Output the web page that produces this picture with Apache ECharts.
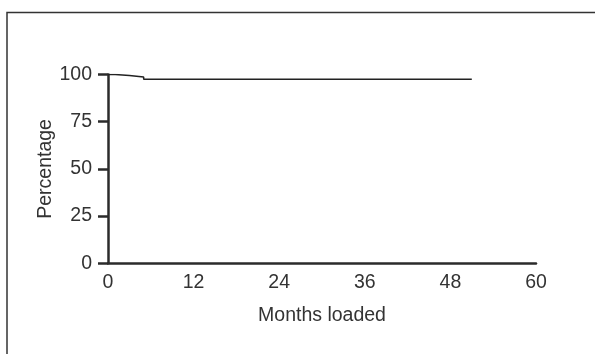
<!DOCTYPE html>
<html>
<head>
<meta charset="utf-8">
<script src="https://cdn.jsdelivr.net/npm/echarts@6/dist/echarts.min.js"></script>
<style>
html,body{margin:0;padding:0;background:#fff;}
#c{width:595px;height:354px;}
</style>
</head>
<body>
<div id="c"></div>
<script>
const months = [0, 1, 3, 5, 51];
const percentage = [100, 99.5, 98.7, 97.5, 97.5];
const xTicks = [0, 12, 24, 36, 48, 60];
const yTicks = [0, 25, 50, 75, 100];

const chart = echarts.init(document.getElementById('c'), null, {renderer: 'canvas'});
const axisColor = '#2b2b2b';
const textColor = '#333333';
const font = 'Liberation Sans, Arial, sans-serif';
const fs = 19.5;
chart.setOption({
  animation: false,
  backgroundColor: '#ffffff',
  graphic: [{
    type: 'rect',
    shape: {x: 7, y: 12.5, width: 620, height: 400},
    style: {fill: 'none', stroke: '#333', lineWidth: 1.5},
    silent: true
  }],
  grid: {left: 108, right: 59, top: 74.5, bottom: 90.7, containLabel: false},
  xAxis: {
    type: 'value',
    min: xTicks[0], max: xTicks[xTicks.length - 1], interval: 12,
    name: 'Months loaded',
    nameLocation: 'middle',
    nameGap: 42,
    nameMoveOverlap: false,
    nameTextStyle: {fontFamily: font, fontSize: fs, color: textColor},
    axisLine: {show: true, onZero: false, lineStyle: {color: axisColor, width: 2.5}},
    axisTick: {show: false},
    splitLine: {show: false},
    axisLabel: {margin: 9, fontFamily: font, fontSize: fs, color: textColor}
  },
  yAxis: {
    type: 'value',
    min: yTicks[0], max: yTicks[yTicks.length - 1], interval: 25,
    name: 'Percentage',
    nameLocation: 'middle',
    nameGap: 52,
    nameMoveOverlap: false,
    nameTextStyle: {fontFamily: font, fontSize: fs, color: textColor},
    axisLine: {show: true, lineStyle: {color: axisColor, width: 2.5}},
    axisTick: {show: true, length: 10, lineStyle: {color: axisColor, width: 2.5}},
    splitLine: {show: false},
    axisLabel: {margin: 16, fontFamily: font, fontSize: fs, color: textColor}
  },
  series: [{
    type: 'line',
    step: 'end',
    data: months.map((m, i) => [m, percentage[i]]),
    symbol: 'none',
    lineStyle: {color: '#222', width: 1.5},
    z: 1
  }]
});
</script>
</body>
</html>
